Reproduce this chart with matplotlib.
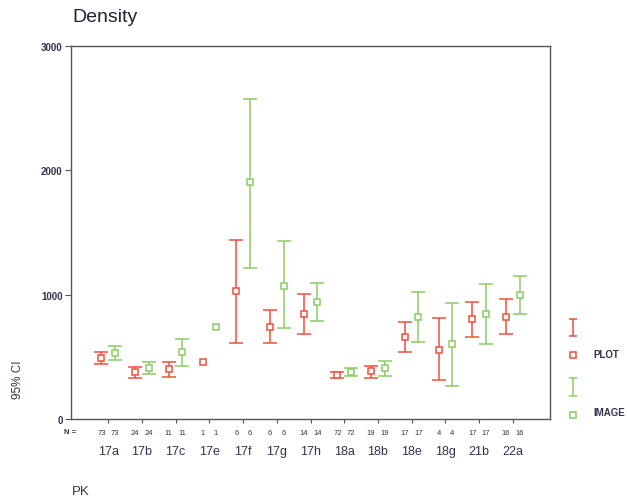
import matplotlib
matplotlib.use("Agg")
import matplotlib.pyplot as plt
import numpy as np

plt.rcParams["font.family"] = ["Liberation Sans", "DejaVu Sans"]

categories = ["17a", "17b", "17c", "17e", "17f", "17g", "17h", "18a", "18b", "18e", "18g", "21b", "22a"]
n_plot = [73, 24, 11, 1, 6, 6, 14, 72, 19, 17, 4, 17, 16]
n_image = [73, 24, 11, 1, 6, 6, 14, 72, 19, 17, 4, 17, 16]

plot_mean = [490, 378, 402, 458, 1030, 740, 845, 350, 386, 660, 555, 805, 821]
plot_lo = [442, 330, 338, np.nan, 611, 611, 684, 326, 330, 539, 314, 660, 684]
plot_hi = [539, 418, 458, np.nan, 1440, 877, 1006, 374, 426, 780, 813, 941, 965]

image_mean = [531, 410, 539, 740, 1907, 1070, 941, 378, 410, 821, 603, 845, 998]
image_lo = [475, 362, 426, np.nan, 1215, 732, 788, 346, 346, 619, 265, 603, 845]
image_hi = [587, 458, 644, np.nan, 2574, 1432, 1094, 410, 467, 1022, 933, 1086, 1150]

yticks = [0, 1000, 2000, 3000]

RED = "#f0503c"
GREEN = "#8ccc64"
TXT = "#333350"

W, H = 627, 502
fig = plt.figure(figsize=(W / 100, H / 100), dpi=100)
ax = fig.add_axes([71 / W, 1 - 420 / H, (550 - 71) / W, (420 - 46.7) / H])

x = np.arange(len(categories))
off = 0.2


def draw(xpos, mean, lo, hi, color):
    mean = np.array(mean, float)
    lo = np.array(lo, float)
    hi = np.array(hi, float)
    err = np.vstack([mean - lo, hi - mean])
    ax.errorbar(xpos, mean, yerr=err, fmt="none", ecolor=color, elinewidth=1.1,
                capsize=5, capthick=1.1)
    ax.plot(xpos, mean, ls="none", marker="s", ms=5, mfc="white", mec=color, mew=1.1)


draw(x - off, plot_mean, plot_lo, plot_hi, RED)
draw(x + off, image_mean, image_lo, image_hi, GREEN)

ax.set_xlim(-1.1, len(categories) - 1 + 1.1)
ax.set_ylim(0, 3000)
ax.set_yticks(yticks)
ax.set_yticklabels([str(v) for v in yticks], fontsize=7, color=TXT, fontweight="bold")
ax.set_xticks(x)
ax.set_xticklabels([])
ax.tick_params(axis="x", length=3, width=0.8, color="#555555")
ax.tick_params(axis="y", length=4, width=0.8, color="#555555", pad=2)
for s in ax.spines.values():
    s.set_color("#555555")
    s.set_linewidth(1.0)

# N labels and category labels
for i, c in enumerate(categories):
    ax.text(x[i] - off, -0.035, str(n_plot[i]), transform=ax.get_xaxis_transform(),
            ha="center", va="center", fontsize=5.5, color=TXT)
    ax.text(x[i] + off, -0.035, str(n_image[i]), transform=ax.get_xaxis_transform(),
            ha="center", va="center", fontsize=5.5, color=TXT)
    ax.text(x[i], -0.085, c, transform=ax.get_xaxis_transform(),
            ha="center", va="center", fontsize=9, color=TXT)

fig.text(70 / W, 1 - 433 / H, "N =", fontsize=5.5, color=TXT, ha="center", va="center",
         fontweight="bold")
fig.text(72 / W, 1 - 17 / H, "Density", fontsize=14, color="#222233", ha="left", va="center")
fig.text(72 / W, 1 - 492 / H, "PK", fontsize=9.5, color=TXT, ha="left", va="center")
fig.text(18 / W, 1 - 380 / H, "95% CI", fontsize=8.5, color=TXT, rotation=90,
         ha="center", va="center")

# Legend
lax = fig.add_axes([0, 0, 1, 1])
lax.set_xlim(0, W)
lax.set_ylim(H, 0)
lax.axis("off")
lax.errorbar([573], [328.5], yerr=[[8.5], [8.5]], fmt="none", ecolor=RED,
             elinewidth=1.1, capsize=3, capthick=1.1)
lax.plot([573], [356], ls="none", marker="s", ms=5, mfc="white", mec=RED, mew=1.1)
lax.text(593, 355, "PLOT", fontsize=7, color=TXT, ha="left", va="center", fontweight="bold")
lax.errorbar([573], [388], yerr=[[9], [9]], fmt="none", ecolor=GREEN,
             elinewidth=1.1, capsize=3, capthick=1.1)
lax.plot([573], [416], ls="none", marker="s", ms=5, mfc="white", mec=GREEN, mew=1.1)
lax.text(593, 413, "IMAGE", fontsize=7, color=TXT, ha="left", va="center", fontweight="bold")

fig.savefig("out.png", dpi=100)
